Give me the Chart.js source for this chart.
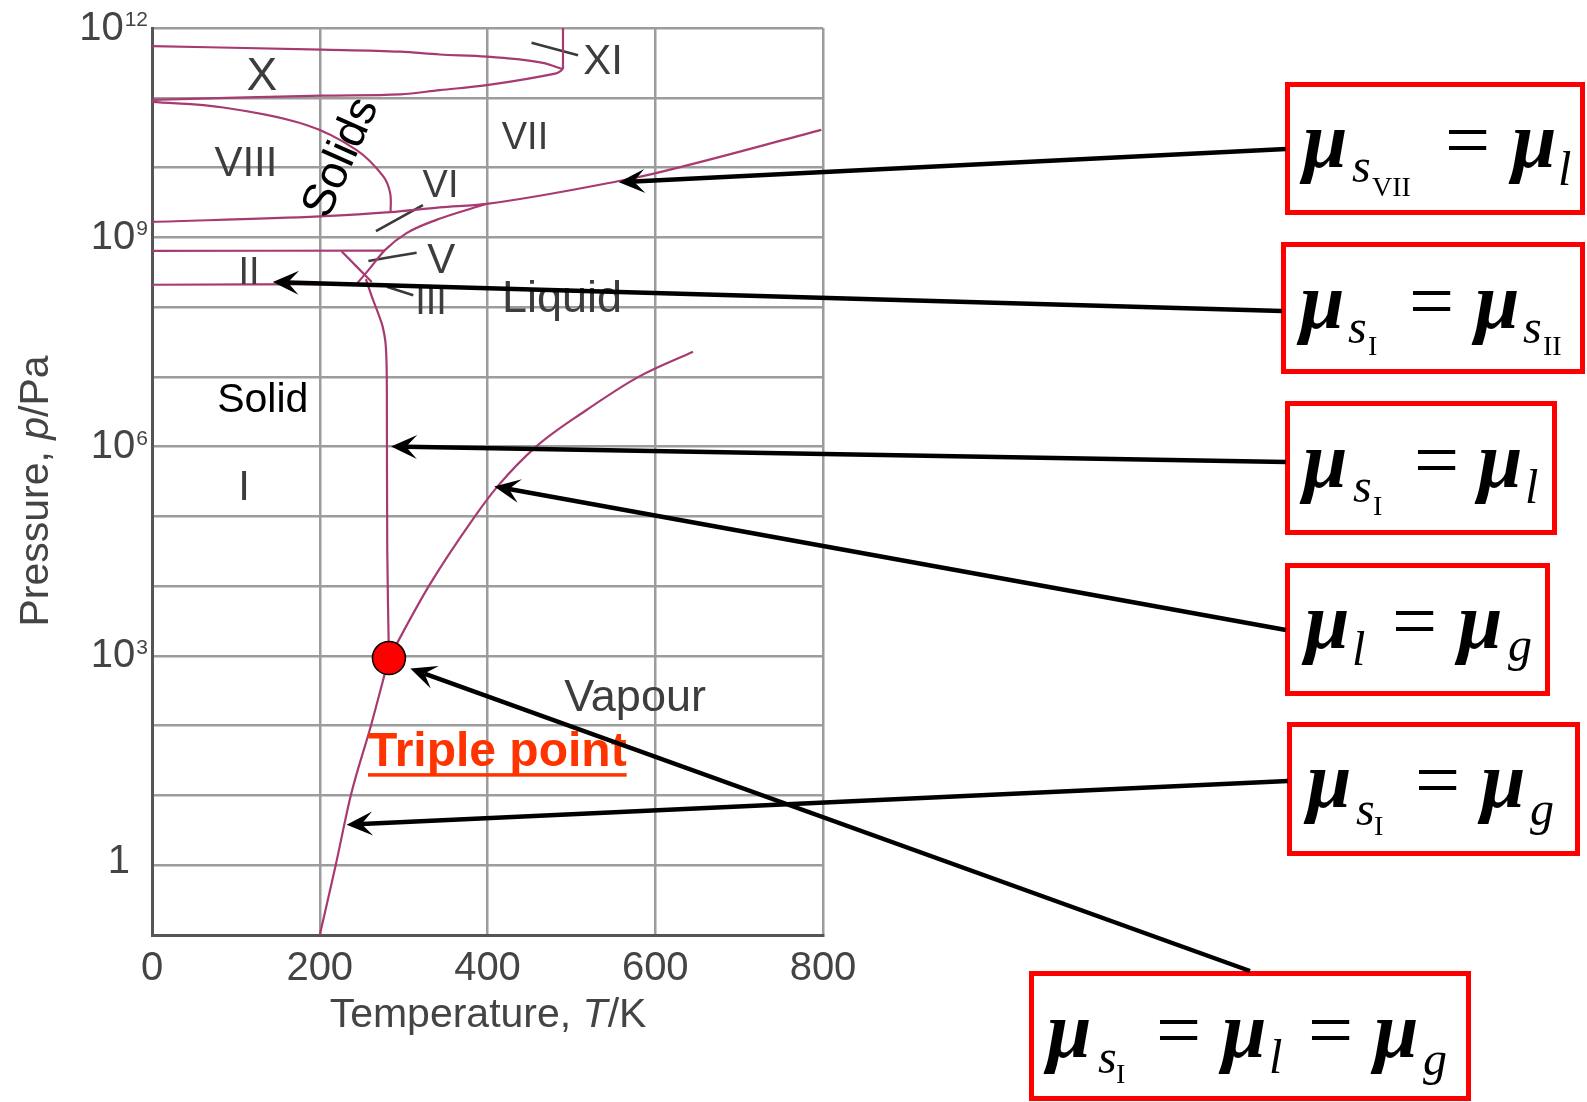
<!DOCTYPE html>
<html>
<head>
<meta charset="utf-8">
<title>Phase diagram of water</title>
<script src="https://cdn.jsdelivr.net/npm/chart.js@4.4.1/dist/chart.umd.min.js"></script>
<style>
  html, body { margin: 0; padding: 0; background: #fff; }
  canvas { display: block; }
</style>
</head>
<body>
<canvas id="chart" width="1587" height="1102"></canvas>
<script>
"use strict";

// temperature in K, pressure as log10(p / Pa)
var sublimationT = [200, 219, 237, 261, 282.5];
var sublimationLogP = [-1, 0, 1, 2, 2.97];

var vaporT = [282.5, 330, 385, 412, 458, 515, 580, 645];
var vaporLogP = [2.97, 4, 5, 5.43, 6, 6.5, 7, 7.36];

var meltIT = [282.5, 280.5, 280, 279.6, 278.3, 275, 270, 263, 255];
var meltILogP = [2.97, 4.5, 6.8, 7.2, 7.5, 7.72, 7.9, 8.12, 8.4];

var lowerIIT = [0, 244];
var lowerIILogP = [8.32, 8.33];

var upperIIT = [0, 277];
var upperIILogP = [8.805, 8.81];

var diagIIT = [226, 262];
var diagIILogP = [8.8, 8.36];

var meltHighT = [244, 258, 278, 303.5, 339, 399];
var meltHighLogP = [8.33, 8.53, 8.82, 9.06, 9.25, 9.48];

var meltVIIT = [0, 200, 284, 343, 399, 554, 597, 798];
var meltVIILogP = [9.22, 9.3, 9.36, 9.43, 9.48, 9.8, 9.91, 10.54];

var arcVIIIT = [0, 85, 184, 244, 276, 284, 284.5];
var arcVIIILogP = [10.94, 10.86, 10.61, 10.25, 9.87, 9.63, 9.36];

var xUpperT = [0, 202, 296, 343, 399, 466, 490];
var xUpperLogP = [11.74, 11.69, 11.66, 11.62, 11.59, 11.5, 11.41];

var xLowerT = [490, 482, 399, 343, 296, 202, 0];
var xLowerLogP = [11.41, 11.35, 11.18, 11.11, 11.05, 11.03, 10.97];

var xiT = [490, 490];
var xiLogP = [11.41, 12];

var tripleT = [282.5];
var tripleLogP = [2.97];

// short leader strokes next to the small phase labels
var leaders = [
    { t: [452.5, 508], p: [11.79, 11.61] },
    { t: [267, 323], p: [9.09, 9.46] },
    { t: [258, 315.5], p: [8.66, 8.78] },
    { t: [280, 311.5], p: [8.29, 8.17] }
];

var xTickValues = [0, 200, 400, 600, 800];
var yDecades = [-1, 0, 1, 2, 3, 4, 5, 6, 7, 8, 9, 10, 11, 12];
var yLabelDecades = [12, 9, 6, 3, 0];

var SANS = '"Liberation Sans", Arial, Helvetica, sans-serif';
var SERIF = '"Liberation Serif", "Times New Roman", serif';
var CURVE = '#a83a72';
var GRID = '#9c9c9c';

var regionLabels = [
    { text: 'X', t: 131, p: 11.3, size: 46, color: '#3d3d3d' },
    { text: 'XI', t: 537.7, p: 11.5, size: 42, color: '#3d3d3d' },
    { text: 'VII', t: 444.7, p: 10.42, size: 38, color: '#3d3d3d' },
    { text: 'VIII', t: 112, p: 10.04, size: 42, color: '#3d3d3d' },
    { text: 'VI', t: 344, p: 9.73, size: 38, color: '#3d3d3d' },
    { text: 'V', t: 345, p: 8.65, size: 42, color: '#3d3d3d' },
    { text: 'III', t: 332.6, p: 8.05, size: 38, color: '#3d3d3d' },
    { text: 'II', t: 115.6, p: 8.48, size: 38, color: '#3d3d3d' },
    { text: 'Liquid', t: 488.8, p: 8.11, size: 45, color: '#3d3d3d' },
    { text: 'Solid', t: 132, p: 6.66, size: 41, color: '#000' },
    { text: 'I', t: 109.7, p: 5.4, size: 42, color: '#3d3d3d' },
    { text: 'Vapour', t: 575.9, p: 2.385, size: 45, color: '#3d3d3d' },
    { text: 'Solids', t: 226, p: 10.14, size: 46, color: '#000', angle: -66 }
];

// boxes with the equilibrium conditions, tokens: [text, kind, dx, drop]
var boxes = [
    { x: 1285, y: 82, w: 300, h: 133, base: 85, tokens: [['μ', 'm', 18, 0], ['s', 's', 67, 15], ['VII', 'r', 87, 29], ['=', 'e', 160, 0], ['μ', 'm', 227, 0], ['l', 's', 273, 18]] },
    { x: 1281, y: 242, w: 304, h: 132, base: 86, tokens: [['μ', 'm', 19, 0], ['s', 's', 67, 15], ['I', 'r', 87, 27], ['=', 'e', 128, 0], ['μ', 'm', 194, 0], ['s', 's', 242, 15], ['II', 'r', 262, 27]] },
    { x: 1285, y: 401, w: 272, h: 134, base: 86, tokens: [['μ', 'm', 18, 0], ['s', 's', 68, 15], ['I', 'r', 88, 28], ['=', 'e', 129, 0], ['μ', 'm', 193, 0], ['l', 's', 240, 16]] },
    { x: 1285, y: 563, w: 265, h: 133, base: 85, tokens: [['μ', 'm', 20, 0], ['l', 's', 67, 17], ['=', 'e', 107, 0], ['μ', 'm', 173, 0], ['g', 's', 223, 13]] },
    { x: 1287, y: 722, w: 293, h: 134, base: 85, tokens: [['μ', 'm', 20, 0], ['s', 's', 69, 18], ['I', 'r', 87, 28], ['=', 'e', 128, 0], ['μ', 'm', 194, 0], ['g', 's', 243, 18]] },
    { x: 1029, y: 971, w: 442, h: 130, base: 86, tokens: [['μ', 'm', 18, 0], ['s', 's', 69, 16], ['I', 'r', 87, 26], ['=', 'e', 127, 0], ['μ', 'm', 193, 0], ['l', 's', 240, 16], ['=', 'e', 279, 0], ['μ', 'm', 345, 0], ['g', 's', 394, 18]] }
];

var arrows = [
    { from: [1286, 149], t: 556.6, p: 9.79 },
    { from: [1282, 311], t: 144, p: 8.36 },
    { from: [1286, 462], t: 285, p: 6.0 },
    { from: [1286, 630], t: 408, p: 5.43 },
    { from: [1288, 781], t: 232, p: 0.58 },
    { from: [1250, 971], t: 308, p: 2.82 }
];

var tokenFonts = {
    m: 'italic bold 80px ' + SERIF,
    e: '80px ' + SERIF,
    s: 'italic 48px ' + SERIF,
    r: '28px ' + SERIF
};

function toPoints(ts, logps) {
    return ts.map(function(t, i) {
        return { x: t, y: Math.pow(10, logps[i]) };
    });
}

function curve(ts, logps, color, width, monotone) {
    return {
        data: toPoints(ts, logps),
        showLine: true,
        pointRadius: 0,
        pointHoverRadius: 0,
        borderColor: color || CURVE,
        borderWidth: width || 2.2,
        tension: 0.35,
        cubicInterpolationMode: monotone ? 'monotone' : 'default',
        fill: false
    };
}

function mixedText(ctx, parts, size, x, y) {
    var widths = parts.map(function(part) {
        ctx.font = (part[1] ? 'italic ' : '') + size + 'px ' + SANS;
        return ctx.measureText(part[0]).width;
    });
    var total = widths.reduce(function(a, b) { return a + b; }, 0);
    var cx = x - total / 2;
    ctx.textAlign = 'left';
    parts.forEach(function(part, i) {
        ctx.font = (part[1] ? 'italic ' : '') + size + 'px ' + SANS;
        ctx.fillText(part[0], cx, y);
        cx += widths[i];
    });
}

function drawArrow(ctx, x1, y1, x2, y2) {
    var ang = Math.atan2(y2 - y1, x2 - x1);
    var cos = Math.cos(ang), sin = Math.sin(ang);
    function pt(back, side) {
        return [x2 - back * cos - side * sin, y2 - back * sin + side * cos];
    }
    var notch = pt(15, 0), a = pt(26, 12), b = pt(26, -12);
    ctx.strokeStyle = '#000';
    ctx.fillStyle = '#000';
    ctx.lineWidth = 4.5;
    ctx.beginPath();
    ctx.moveTo(x1, y1);
    ctx.lineTo(notch[0], notch[1]);
    ctx.stroke();
    ctx.beginPath();
    ctx.moveTo(x2, y2);
    ctx.lineTo(a[0], a[1]);
    ctx.lineTo(notch[0], notch[1]);
    ctx.lineTo(b[0], b[1]);
    ctx.closePath();
    ctx.fill();
}

var overlayPlugin = {
    id: 'overlay',
    afterDraw: function(chart) {
        var ctx = chart.ctx;
        var xs = chart.scales.x, ys = chart.scales.y;
        function px(t) { return xs.getPixelForValue(t); }
        function py(lp) { return ys.getPixelForValue(Math.pow(10, lp)); }

        ctx.save();

        // y tick labels with superscripts
        ctx.fillStyle = '#444';
        ctx.textBaseline = 'alphabetic';
        ctx.textAlign = 'right';
        yLabelDecades.forEach(function(d) {
            var y = py(d);
            if (d === 0) {
                ctx.font = '40px ' + SANS;
                ctx.fillText('1', 130, y + 8);
                return;
            }
            ctx.font = '21px ' + SANS;
            var sw = ctx.measureText(String(d)).width;
            ctx.fillText(String(d), 148, y - 2);
            ctx.font = '40px ' + SANS;
            ctx.fillText('10', 148 - sw - 1, y + 11.5);
        });

        // axis titles
        ctx.fillStyle = '#444';
        mixedText(ctx, [['Temperature, ', false], ['T', true], ['/K', false]], 41, 488, 1027);
        ctx.save();
        ctx.translate(48, 491);
        ctx.rotate(-Math.PI / 2);
        mixedText(ctx, [['Pressure, ', false], ['p', true], ['/Pa', false]], 41, 0, 0);
        ctx.restore();

        // phase labels
        ctx.textAlign = 'center';
        ctx.textBaseline = 'middle';
        regionLabels.forEach(function(lab) {
            ctx.save();
            ctx.translate(px(lab.t), py(lab.p));
            if (lab.angle) {
                ctx.rotate(lab.angle * Math.PI / 180);
            }
            ctx.font = lab.size + 'px ' + SANS;
            ctx.fillStyle = lab.color;
            ctx.fillText(lab.text, 0, 0);
            ctx.restore();
        });

        // triple point caption
        var tx = px(257.5), tyBase = py(1.42);
        ctx.font = 'bold 48px ' + SANS;
        ctx.fillStyle = '#ff3300';
        ctx.textAlign = 'left';
        ctx.textBaseline = 'alphabetic';
        ctx.fillText('Triple point', tx, tyBase);
        var tw = ctx.measureText('Triple point').width;
        ctx.fillRect(tx, tyBase + 7, tw, 3.5);

        // condition boxes
        boxes.forEach(function(box) {
            ctx.strokeStyle = '#ff0000';
            ctx.lineWidth = 5;
            ctx.strokeRect(box.x + 2.5, box.y + 2.5, box.w - 5, box.h - 5);
            ctx.fillStyle = '#000';
            ctx.textAlign = 'left';
            ctx.textBaseline = 'alphabetic';
            box.tokens.forEach(function(tok) {
                ctx.font = tokenFonts[tok[1]];
                ctx.fillText(tok[0], box.x + tok[2], box.y + box.base + tok[3]);
            });
        });

        // arrows from the boxes to the curves
        arrows.forEach(function(ar) {
            drawArrow(ctx, ar.from[0], ar.from[1], px(ar.t), py(ar.p));
        });

        ctx.restore();
    }
};

var datasets = [
    {
        data: toPoints(tripleT, tripleLogP),
        showLine: false,
        pointRadius: 16.5,
        pointHoverRadius: 16.5,
        pointBackgroundColor: '#ff0000',
        pointBorderColor: '#000',
        pointBorderWidth: 1.5
    },
    curve(sublimationT, sublimationLogP, null, null, true),
    curve(vaporT, vaporLogP, null, null, true),
    curve(meltIT, meltILogP),
    curve(lowerIIT, lowerIILogP),
    curve(upperIIT, upperIILogP),
    curve(diagIIT, diagIILogP),
    curve(meltHighT, meltHighLogP, null, null, true),
    curve(meltVIIT, meltVIILogP, null, null, true),
    curve(arcVIIIT, arcVIIILogP),
    curve(xUpperT, xUpperLogP, null, null, true),
    curve(xLowerT, xLowerLogP),
    curve(xiT, xiLogP)
];
leaders.forEach(function(l) {
    datasets.push(curve(l.t, l.p, '#3a3a3a', 2.6));
});

var chart = new Chart(document.getElementById('chart'), {
    type: 'scatter',
    data: { datasets: datasets },
    options: {
        responsive: false,
        animation: false,
        devicePixelRatio: 1,
        layout: { padding: { left: 152, top: 28, right: 764, bottom: 67 } },
        plugins: {
            legend: { display: false },
            tooltip: { enabled: false }
        },
        scales: {
            x: {
                type: 'linear',
                min: 0,
                max: 800,
                afterBuildTicks: function(scale) {
                    scale.ticks = xTickValues.map(function(v) { return { value: v }; });
                },
                afterFit: function(scale) { scale.height = 100; },
                ticks: {
                    autoSkip: false,
                    maxRotation: 0,
                    padding: 10,
                    color: '#444',
                    font: { family: SANS, size: 40 }
                },
                grid: { color: GRID, lineWidth: 2.5, drawTicks: false },
                border: { color: '#555', width: 3 }
            },
            y: {
                type: 'logarithmic',
                min: 0.1,
                max: 1e12,
                afterBuildTicks: function(scale) {
                    scale.ticks = yDecades.map(function(d) { return { value: Math.pow(10, d) }; });
                },
                afterFit: function(scale) { scale.width = 0; },
                ticks: { display: false },
                grid: { color: GRID, lineWidth: 2.5, drawTicks: false },
                border: { color: '#555', width: 3 }
            }
        }
    },
    plugins: [overlayPlugin]
});
</script>
</body>
</html>
